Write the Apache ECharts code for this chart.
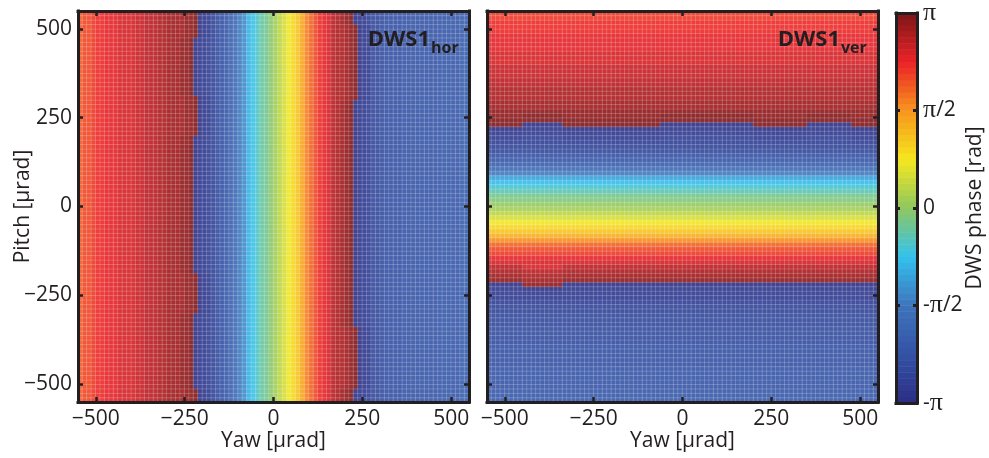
<!DOCTYPE html>
<html><head><meta charset="utf-8">
<script src="https://cdn.jsdelivr.net/npm/echarts@6/dist/echarts.min.js"></script>
<style>html,body{margin:0;padding:0;background:#fff}#c{width:989px;height:458px}</style>
</head><body><div id="c"></div><script>
// ---- data ----
const yawTicks = [-500, -250, 0, 250, 500];
const pitchTicks = [-500, -250, 0, 250, 500];
const phaseTicks = [-Math.PI, -Math.PI / 2, 0, Math.PI / 2, Math.PI];
const phaseTickLabels = ['-π', '-π/2', '0', 'π/2', 'π'];
const panelTitles = [['DWS1', 'hor'], ['DWS1', 'ver']];
const axisNames = { yaw: 'Yaw [μrad]', pitch: 'Pitch [μrad]', phase: 'DWS phase [rad]' };

// DWS1 hor: phase [rad] per yaw cell (left to right), at the reference pitch rows
const horYawPhase = [
  2.00, 2.08, 2.15, 2.22, 2.28, 2.33, 2.37, 2.40, 2.43, 2.46, 2.49, 2.52, 2.55,
  2.58, 2.62, 2.66, 2.70, 2.74, 2.78, 2.82, 2.86, 2.90, 2.94, 2.98, 3.02, 3.07,
  -3.06, -2.98, -2.90, -2.80, -2.68, -2.55, -2.40, -2.24, -2.05, -1.85,
  -1.55, -1.30, -0.95, -0.72, -0.50, -0.38, -0.22, -0.05,
  0.15, 0.35, 0.58, 0.75, 0.92, 1.15, 1.45, 1.70,
  1.95, 2.12, 2.28, 2.40, 2.52, 2.72, 2.82, 2.90, 2.98, 3.06,
  -3.05, -2.95, -2.85, -2.75, -2.65, -2.56, -2.50,
  -2.44, -2.41, -2.38, -2.36, -2.34, -2.32, -2.31, -2.30, -2.29, -2.28,
  -2.27, -2.26, -2.25, -2.24, -2.22, -2.20, -2.18, -2.15, -2.12
];
// wrap-boundary step (in cells) per pitch row (bottom to top)
const horLeftShift = [
  1,1,1, 0,0,0,0,0,0,0,0,0,0,0,0,0,0,0,0,0, 1,1,1,1,1,1,1,1,1,
  0,0,0,0,0,0,0,0,0,0,0,0,0,0,0,0,0,0,0,0,0,0,0,0,0,0,0,0,0,0,0,
  1,1,1,1,1,1,1,1,1, 0,0,0,0,0,0,0,0,0,0,0,0,0, 1,1,1,1,1,1
];
const horRightShift = [
  0,0,0, 1,1,1,1,1,1,1,1,1,1,1,1,1,1,
  0,0,0,0,0,0,0,0,0,0,0,0,0,0,0,0,0,0,0,0,0,0,0,0,0,0,0,0,0,0,0,0,0,0,0,
  0,0,0,0,0,0,0,0,0,0,0,0,0,0,0,0,
  1,1,1,1,1,1,1,1,1,1,1,1,1,1,1,1,1, 0,0,0
];
// DWS1 ver: phase [rad] per pitch cell (bottom to top), at the reference yaw columns
const verPitchPhase = [
  -2.20, -2.22, -2.24, -2.26, -2.28, -2.30, -2.32, -2.34, -2.36, -2.38, -2.40,
  -2.42, -2.44, -2.46, -2.48, -2.50, -2.53, -2.56, -2.60, -2.64, -2.68, -2.73,
  -2.78, -2.85, -2.93, -3.02, -3.12,
  3.02, 2.90, 2.79, 2.67, 2.54, 2.40, 2.24, 2.07, 1.87, 1.62,
  1.37, 1.13, 0.91, 0.71, 0.52, 0.34, 0.17, 0.02, -0.12, -0.26,
  -0.42, -0.60, -0.85, -1.15, -1.50, -1.82, -2.08, -2.28, -2.45, -2.60,
  -2.72, -2.83, -2.92, -3.00, -3.08,
  3.12, 3.06, 3.01, 2.96, 2.91, 2.87, 2.83, 2.79, 2.75, 2.71, 2.67, 2.63, 2.60,
  2.57, 2.54, 2.51, 2.48, 2.45, 2.42, 2.39, 2.36, 2.33, 2.30, 2.26, 2.22, 2.17
];
// wrap-boundary step (in cells) per yaw column (left to right)
const verUpperShift = [
  0,0,0,0,0,0,0,0, 1,1,1,1,1,1,1,1,1,
  0,0,0,0,0,0,0,0,0,0,0,0,0,0,0,0,0,0,0,0,0,0,
  1,1,1,1,1,1,1,1,1,1,1,1,1,1,1,1,1,1,1,1,1,
  0,0,0,0,0,0,0,0,0,0,0,0, 1,1,1,1,1,1,1,1,1,1, 0,0,0,0,0,0
];
const verLowerShift = [
  0,0,0,0,0,0,0,0, -1,-1,-1,-1,-1,-1,-1,-1,-1,
  0,0,0,0,0,0,0,0,0,0,0,0,0,0,0,0,0,0,0,0,0,0,0,0,0,0,0,0,0,0,0,0,0,0,0,0,0,0,0,
  0,0,0,0,0,0,0,0,0,0,0,0,0,0,0,0,0,0,0,0,0,0,0,0,0,0,0,0,0,0,0,0,0,0,0,0,0,0,0,
  -1,-1,-1,-1,-1,-1,-1,-1,-1,-1, 0,0,0,0,0,0
].slice(0, 88);
const phaseColorStops = ['#2b2e85', '#3452a5', '#3e74bb', '#33c2ee', '#8fc760', '#f6e71e', '#f7941d', '#ea2228', '#7b1517'];
const colorLevels = 64;

// ---- build ----
const N = horYawPhase.length;
const cats = horYawPhase.map((_, i) => String(i));
const ink = '#231f20';
const font = 'Open Sans';

const horData = [], verData = [];
for (let r = 0; r < N; r++) {
  for (let j = 0; j < N; j++) {
    let idx = j;
    if (Math.abs(j - 26) <= 3) idx = j - horLeftShift[r];
    else if (Math.abs(j - 62) <= 3) idx = j - horRightShift[r];
    horData.push([j, r, horYawPhase[idx]]);
    let k = r;
    if (Math.abs(r - 62) <= 3) k = r - verUpperShift[j];
    else if (Math.abs(r - 27) <= 3) k = r - verLowerShift[j];
    verData.push([j, r, verPitchPhase[k]]);
  }
}
const lo = -Math.PI, hi = Math.PI, step = (hi - lo) / colorLevels;
const pieces = [], barData = [], barCats = [];
for (let k = 0; k < colorLevels; k++) {
  const p = { gte: lo + k * step, color: echarts.color.lerp((k + 0.5) / colorLevels, phaseColorStops) };
  if (k < colorLevels - 1) p.lt = lo + (k + 1) * step; else p.lte = hi + 1;
  if (k === 0) p.gte = lo - 1;
  pieces.push(p);
  barCats.push(String(k));
  barData.push([0, k, lo + (k + 0.5) * step]);
}

const fmt = v => (v < 0 ? '\u2212' + (-v) : String(v));
const lbl = { fontSize: 21, color: ink, fontFamily: font };
const nameStyle = { fontSize: 21, color: ink, fontFamily: font };
const line = { show: true, onZero: false, lineStyle: { color: ink, width: 3, cap: 'square' } };
const tick = vals => ({ show: vals.length > 0, inside: true, length: 5, customValues: vals, lineStyle: { color: ink, width: 2.5 } });
const AZ = 10;

const grids = [
  { left: 78, top: 11, width: 391, height: 391 },
  { left: 487, top: 11, width: 391, height: 391 },
  { left: 896, top: 11, width: 21, height: 392 }
];
const xAxis = [], yAxis = [];
[0, 1].forEach(g => {
  xAxis.push({ gridIndex: g, type: 'category', data: cats, show: false });
  xAxis.push({ gridIndex: g, z: AZ, type: 'value', min: -550, max: 550, position: 'bottom', axisLine: line, axisTick: tick(yawTicks),
    axisLabel: Object.assign({ customValues: yawTicks, formatter: fmt, margin: 7 }, lbl), splitLine: { show: false },
    name: axisNames.yaw, nameLocation: 'middle', nameGap: 29, nameMoveOverlap: false, nameTextStyle: nameStyle });
  xAxis.push({ gridIndex: g, z: AZ, type: 'value', min: -550, max: 550, position: 'top', axisLine: line, axisTick: tick(yawTicks),
    axisLabel: { show: false }, splitLine: { show: false } });
  yAxis.push({ gridIndex: g, type: 'category', data: cats, show: false });
  yAxis.push(Object.assign({ gridIndex: g, z: AZ, type: 'value', min: -550, max: 550, position: 'left', axisLine: line, axisTick: tick(pitchTicks),
    axisLabel: g === 0 ? Object.assign({ customValues: pitchTicks, formatter: fmt, margin: 6 }, lbl) : { show: false }, splitLine: { show: false } },
    g === 0 ? { name: axisNames.pitch, nameLocation: 'middle', nameGap: 44, nameRotate: 90, nameMoveOverlap: false, nameTextStyle: nameStyle } : {}));
  yAxis.push({ gridIndex: g, z: AZ, type: 'value', min: -550, max: 550, position: 'right', axisLine: line, axisTick: tick(pitchTicks),
    axisLabel: { show: false }, splitLine: { show: false } });
});
// colour bar axes
xAxis.push({ gridIndex: 2, type: 'category', data: ['c'], show: false });
xAxis.push({ gridIndex: 2, z: AZ, type: 'value', min: 0, max: 1, position: 'bottom', axisLine: line, axisTick: { show: false }, axisLabel: { show: false }, splitLine: { show: false } });
xAxis.push({ gridIndex: 2, z: AZ, type: 'value', min: 0, max: 1, position: 'top', axisLine: line, axisTick: { show: false }, axisLabel: { show: false }, splitLine: { show: false } });
yAxis.push({ gridIndex: 2, type: 'category', data: barCats, show: false });
const innerPhaseTicks = phaseTicks.slice(1, 4);
yAxis.push({ gridIndex: 2, z: AZ, type: 'value', min: lo, max: hi, position: 'left', axisLine: line,
  axisTick: { show: true, inside: true, length: 4, customValues: innerPhaseTicks, lineStyle: { color: ink, width: 3 } },
  axisLabel: { show: false }, splitLine: { show: false } });
yAxis.push({ gridIndex: 2, z: AZ, type: 'value', min: lo, max: hi, position: 'right', axisLine: line,
  axisTick: { show: true, inside: true, length: 4, customValues: innerPhaseTicks, lineStyle: { color: ink, width: 3 } },
  axisLabel: { customValues: phaseTicks, margin: 6,
    formatter: v => {
      let best = 0;
      phaseTicks.forEach((t, i) => { if (Math.abs(t - v) < Math.abs(phaseTicks[best] - v)) best = i; });
      return phaseTickLabels[best].split('').map(ch => ch === 'π' ? '{p|π}' : '{n|' + ch + '}').join('');
    },
    rich: { p: { fontSize: 26, fontFamily: 'Liberation Serif', color: ink }, n: { fontSize: 21, fontFamily: font, color: ink } } },
  splitLine: { show: false },
  name: axisNames.phase, nameLocation: 'middle', nameGap: 48, nameRotate: 90, nameMoveOverlap: false, nameTextStyle: nameStyle });

const cellStyle = { borderColor: 'rgba(255,255,255,0.28)', borderWidth: 0.8, opacity: 0.9 };
const option = {
  animation: false,
  grid: grids,
  xAxis, yAxis,
  visualMap: { type: 'piecewise', show: false, dimension: 2, seriesIndex: [0, 1, 2], pieces },
  series: [
    { type: 'heatmap', z: 1, xAxisIndex: 0, yAxisIndex: 0, data: horData, progressive: 0, itemStyle: cellStyle, emphasis: { disabled: true } },
    { type: 'heatmap', z: 1, xAxisIndex: 3, yAxisIndex: 3, data: verData, progressive: 0, itemStyle: cellStyle, emphasis: { disabled: true } },
    { type: 'heatmap', z: 1, xAxisIndex: 6, yAxisIndex: 6, data: barData, progressive: 0, emphasis: { disabled: true } }
  ],
  graphic: [
    { type: 'text', z: 100, x: 430, y: 29, style: { text: panelTitles[0][0], fill: ink, font: 'bold 22px "Open Sans"', textAlign: 'right', textVerticalAlign: 'top' } },
    { type: 'text', z: 100, x: 431, y: 40, style: { text: panelTitles[0][1], fill: ink, font: 'bold 16px "Open Sans"', textAlign: 'left', textVerticalAlign: 'top' } },
    { type: 'text', z: 100, x: 840, y: 29, style: { text: panelTitles[1][0], fill: ink, font: 'bold 22px "Open Sans"', textAlign: 'right', textVerticalAlign: 'top' } },
    { type: 'text', z: 100, x: 841, y: 40, style: { text: panelTitles[1][1], fill: ink, font: 'bold 16px "Open Sans"', textAlign: 'left', textVerticalAlign: 'top' } }
  ]
};
const chart = echarts.init(document.getElementById('c'), null, { renderer: 'canvas' });
chart.setOption(option);
</script></body></html>
